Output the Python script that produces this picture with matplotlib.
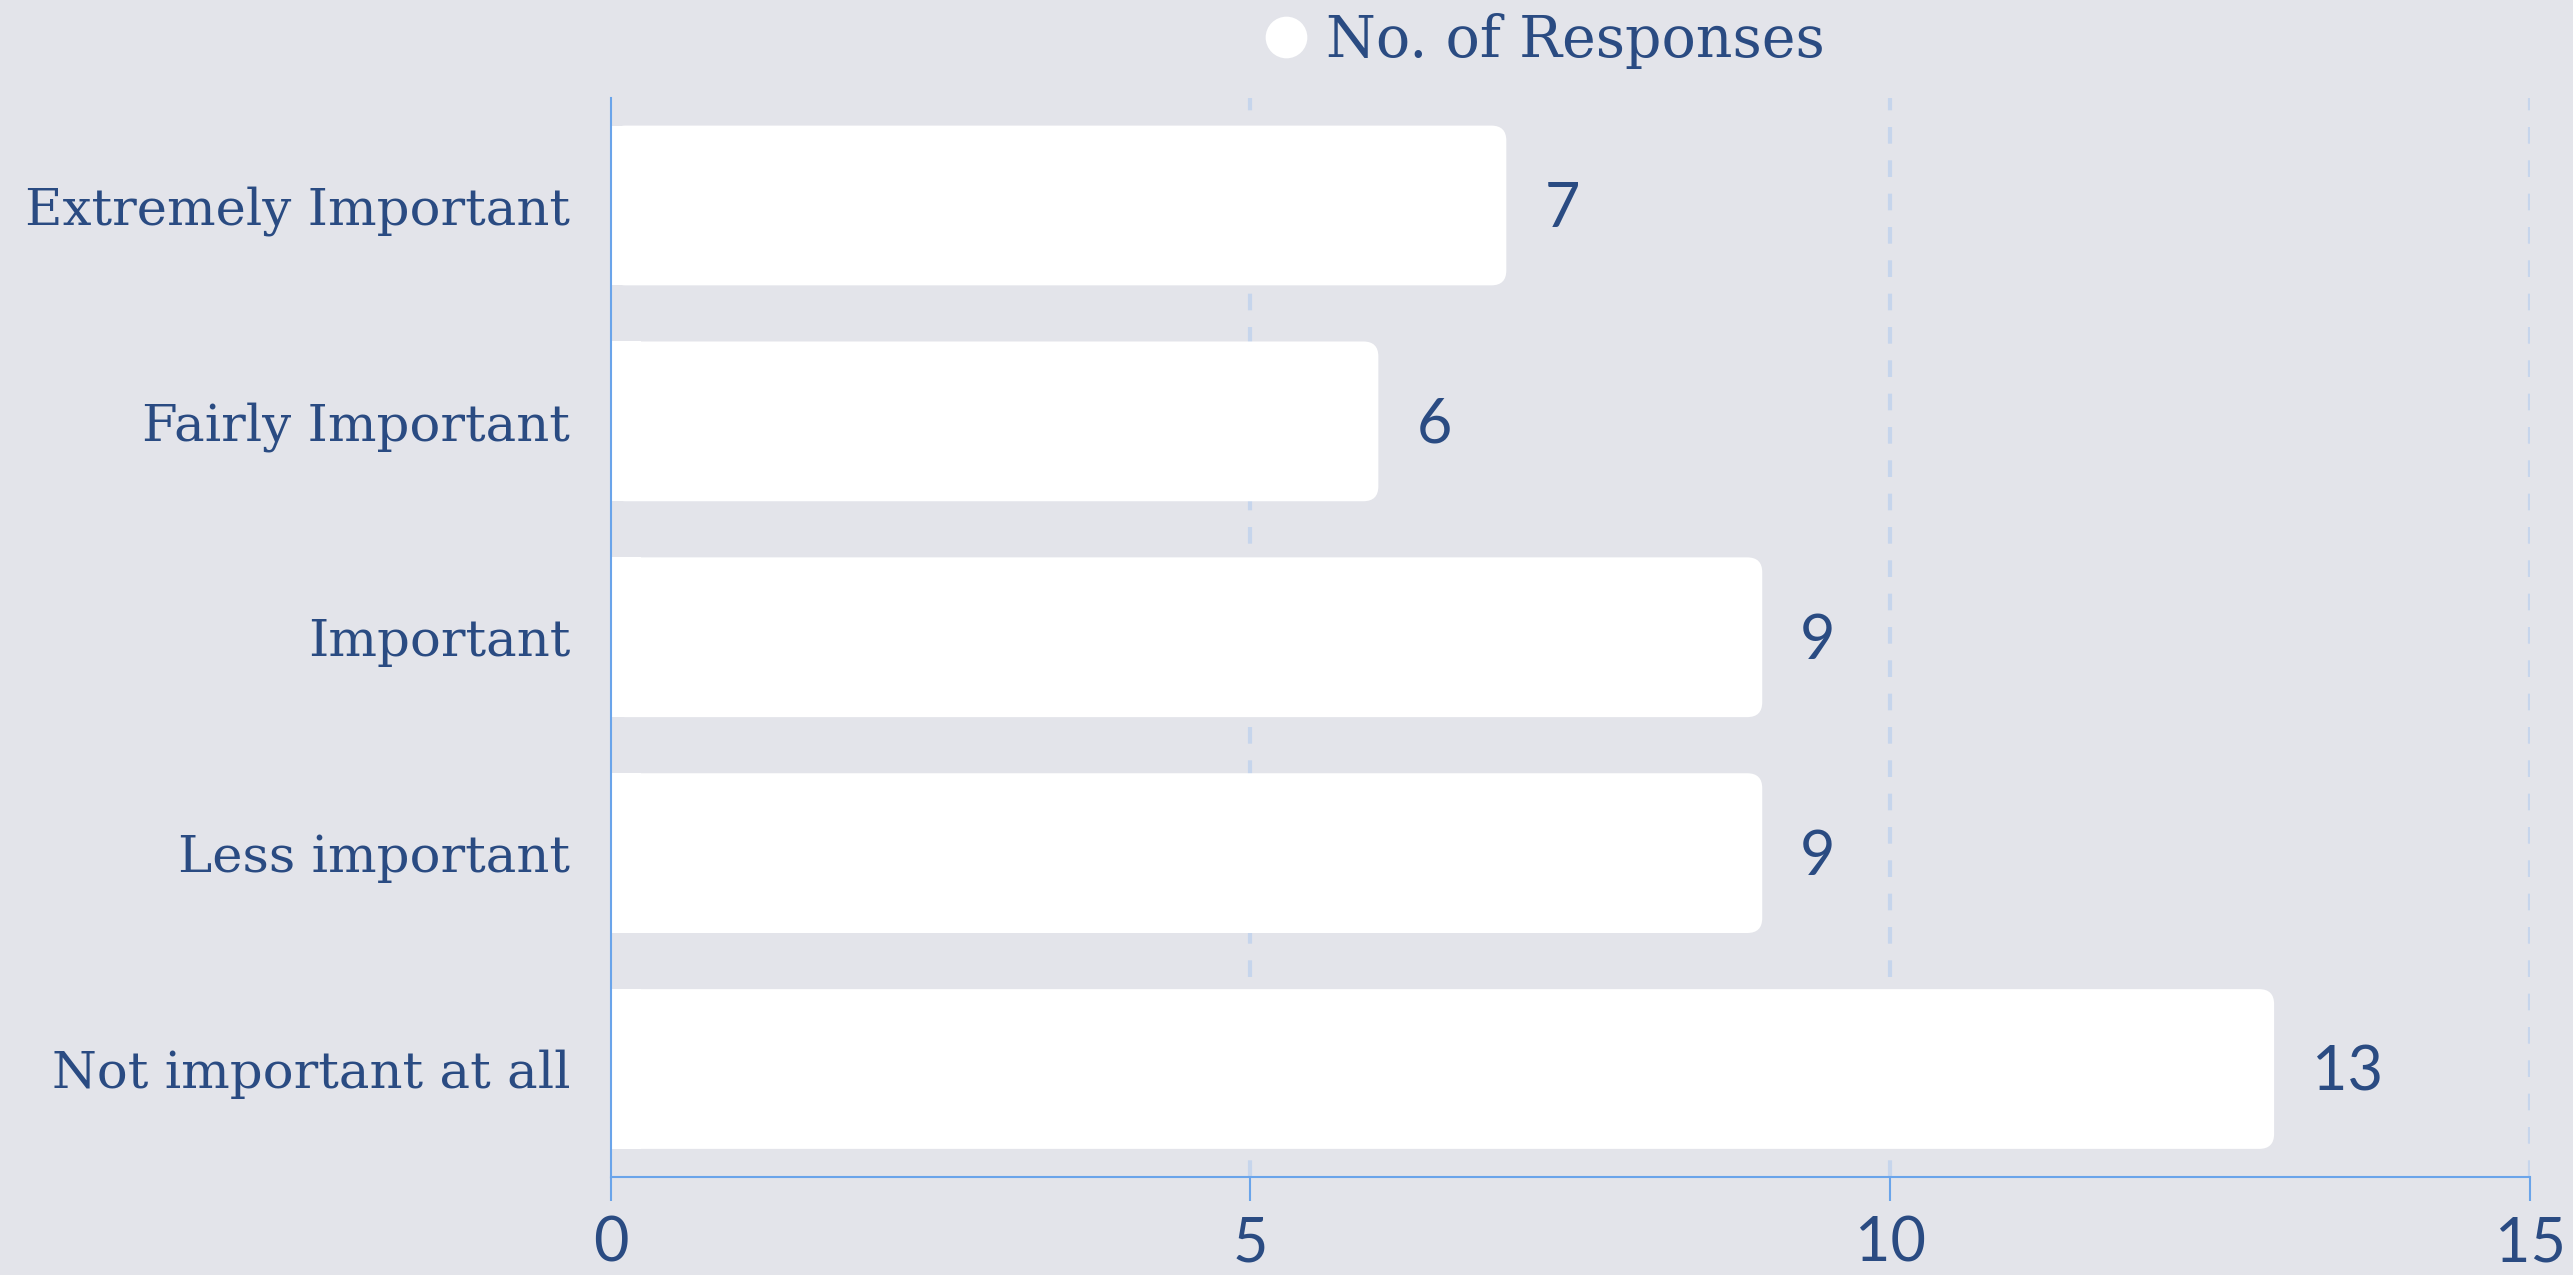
import matplotlib.pyplot as plt
from matplotlib.patches import FancyBboxPatch, Rectangle
from matplotlib.lines import Line2D

categories = ['Extremely Important', 'Fairly Important', 'Important',
              'Less important', 'Not important at all']
responses = [7, 6, 9, 9, 13]
x_ticks = [0, 5, 10, 15]
series_name = 'No. of Responses'

bg = '#e3e4ea'
text_col = '#2a4b82'
axis_col = '#6aa4ea'
grid_col = '#c6d5ec'
serif = ['DejaVu Serif']
sans = ['Lato', 'DejaVu Sans']

fig = plt.figure(figsize=(25.73, 12.75), dpi=100, facecolor=bg)
ax = fig.add_axes([0.2373, 0.0769, 0.746, 0.8466])
ax.set_facecolor(bg)

ax.set_xlim(0, 15)
ax.set_ylim(len(categories) - 0.5, -0.5)

# dashed grid
for t in x_ticks[1:]:
    ax.axvline(t, color=grid_col, lw=3, ls=(0, (4, 4)), zorder=0)

bar_h = 0.74
# rounded bars (round right end only)
x_per_px = 15 / 1920
y_per_px = 1 / 216
r = 15 * x_per_px
aspect = y_per_px / x_per_px
for i, v in enumerate(responses):
    y0 = i - bar_h / 2
    ax.add_patch(FancyBboxPatch((0, y0), v, bar_h,
                                boxstyle=f'round,pad=0,rounding_size={r}',
                                mutation_aspect=aspect,
                                fc='white', ec='none', zorder=2))
    ax.add_patch(Rectangle((0, y0), r * 2, bar_h, fc='white', ec='none', zorder=2))
    ax.text(v + 38 * x_per_px, i + 4 * y_per_px, str(v), va='center', ha='left',
            fontsize=44, color=text_col, family=sans, zorder=3)

ax.set_yticks(range(len(categories)))
ax.set_yticklabels(categories, fontsize=37, color=text_col, family=serif)
ax.tick_params(axis='y', length=0, pad=29)

ax.set_xticks(x_ticks)
ax.set_xticklabels([str(t) for t in x_ticks], fontsize=44, color=text_col, family=sans)
ax.tick_params(axis='x', length=17, width=1.5, color=axis_col, pad=11)

for s in ['top', 'right']:
    ax.spines[s].set_visible(False)
ax.spines['bottom'].set_color(axis_col)
ax.spines['bottom'].set_linewidth(1.5)
ax.spines['left'].set_color(axis_col)
ax.spines['left'].set_linewidth(1.5)

handle = Line2D([], [], marker='o', ls='none', markersize=30,
                markerfacecolor='white', markeredgecolor='none')
fig.legend([handle], [series_name], loc='center', bbox_to_anchor=(0.599, 0.968),
           frameon=False, prop={'family': serif, 'size': 41},
           labelcolor=text_col, handletextpad=0.2, handlelength=1.0)

fig.savefig('out.png', dpi=100, facecolor=bg)
